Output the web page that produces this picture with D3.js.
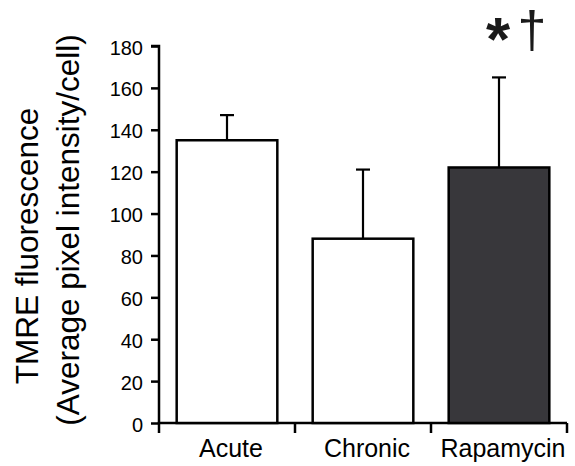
<!DOCTYPE html>
<html><head><meta charset="utf-8">
<script src="https://cdn.jsdelivr.net/npm/d3@7"></script>
<style>body{margin:0;background:#fff}svg{display:block}text{font-family:"Liberation Sans",Arial,Helvetica,sans-serif}</style>
</head><body>
<svg id="c" width="575" height="466"></svg>
<script>
const categories = ["Acute", "Chronic", "Rapamycin"];
const means = [135, 88, 122];
const errors = [12, 33, 43];
const fills = ["#ffffff", "#ffffff", "#38373b"];
const yTicks = [0, 20, 40, 60, 80, 100, 120, 140, 160, 180];

const svg = d3.select("#c");
const x = d3.scaleBand().domain(categories).range([159, 567]).paddingInner(0.26).paddingOuter(0.13);
const y = d3.scaleLinear().domain([0, 180]).range([423, 46]);

// y axis
const ya = svg.append("g").attr("transform", "translate(159,0)")
  .call(d3.axisLeft(y).tickValues(yTicks).tickSize(8).tickPadding(8));
ya.select(".domain").attr("stroke", "#000").attr("stroke-width", 2.5).attr("d", `M-8,${y(180)}H0V${y(0)}`);
ya.selectAll(".tick line").attr("stroke", "#000").attr("stroke-width", 2.5);
ya.selectAll(".tick text").attr("font-size", 20).attr("fill", "#000").attr("dy", "0.4em")
  .style("font-family", "Liberation Sans, Arial, sans-serif");

// x axis
const xa = svg.append("g").attr("transform", `translate(0,${y(0)})`);
xa.append("line").attr("x1", 157.75).attr("x2", 567).attr("stroke", "#000").attr("stroke-width", 2.5);
const bandEdges = [159].concat(categories.map(c => x(c) + x.bandwidth() + x.step() * x.paddingInner() / 2));
bandEdges[bandEdges.length - 1] = 567;
xa.selectAll("line.tk").data(bandEdges).join("line").attr("class", "tk")
  .attr("x1", d => d).attr("x2", d => d).attr("y1", 0).attr("y2", 10)
  .attr("stroke", "#000").attr("stroke-width", 2.5);
xa.selectAll("text").data(categories).join("text")
  .attr("x", d => x(d) + x.bandwidth() / 2 + 4).attr("y", 34)
  .attr("text-anchor", "middle").attr("font-size", 25).text(d => d);

// error bars
const eb = svg.append("g");
categories.forEach((c, i) => {
  const cx = x(c) + x.bandwidth() / 2;
  eb.append("line").attr("x1", cx).attr("x2", cx).attr("y1", y(means[i])).attr("y2", y(means[i] + errors[i]))
    .attr("stroke", "#000").attr("stroke-width", 2.2);
  eb.append("line").attr("x1", cx - 7).attr("x2", cx + 7).attr("y1", y(means[i] + errors[i])).attr("y2", y(means[i] + errors[i]))
    .attr("stroke", "#000").attr("stroke-width", 2.2);
});

// bars
svg.append("g").selectAll("rect").data(categories).join("rect")
  .attr("x", d => x(d)).attr("width", x.bandwidth())
  .attr("y", (d, i) => y(means[i])).attr("height", (d, i) => y(0) - y(means[i]))
  .attr("fill", (d, i) => fills[i]).attr("stroke", "#000").attr("stroke-width", 2.5);

// significance marks
const rc = x("Rapamycin") + x.bandwidth() / 2;
svg.append("text").attr("x", rc - 1).attr("y", 60).attr("text-anchor", "middle")
  .attr("font-size", 62).attr("font-weight", "bold").attr("fill", "#1a1a1a").text("*");
svg.append("text").attr("x", rc + 33).attr("y", 48).attr("text-anchor", "middle")
  .attr("font-size", 52).attr("fill", "#1a1a1a").text("†");

// y title
const yt = svg.append("text").attr("transform", "rotate(-90)").attr("text-anchor", "middle").attr("font-size", 31.5);
yt.append("tspan").attr("x", -246).attr("y", 38).text("TMRE fluorescence");
yt.append("tspan").attr("x", -230).attr("y", 79).text("(Average pixel intensity/cell)");
</script>
</body></html>
